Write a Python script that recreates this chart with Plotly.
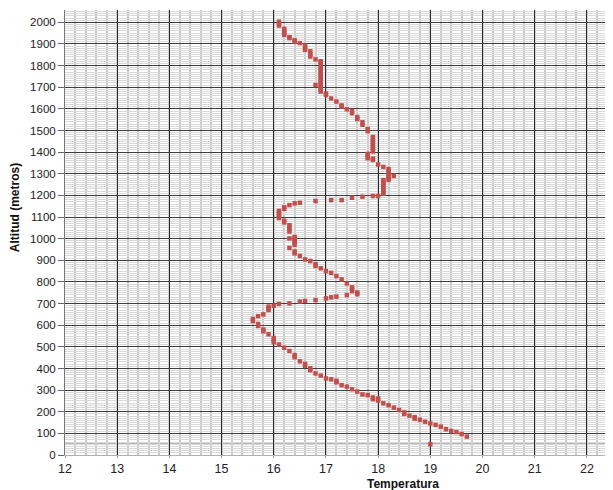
import plotly.graph_objects as go

# Temperature (°C) readings and their altitudes (m)
temperatura = [
    19.0, 19.7, 19.6, 19.5, 19.4, 19.3, 19.2, 19.1, 19.0, 18.9, 18.8, 18.7, 18.7, 18.6, 18.5, 18.5,
    18.4, 18.3, 18.2, 18.1, 18.0, 18.0, 17.9, 17.9, 17.8, 17.7, 17.6, 17.5, 17.4, 17.3, 17.2, 17.2,
    17.1, 17.0, 16.9, 16.8, 16.7, 16.7, 16.6, 16.6, 16.5, 16.4, 16.4, 16.3, 16.2, 16.1, 16.0, 16.0,
    16.0, 15.9, 15.8, 15.8, 15.7, 15.7, 15.6, 15.6, 15.7, 15.8, 15.9, 15.9, 15.9, 16.0, 16.1, 16.3,
    16.5, 16.6, 16.8, 17.0, 17.1, 17.2, 17.4, 17.6, 17.6, 17.5, 17.5, 17.5, 17.4, 17.3, 17.2, 17.1,
    17.0, 16.9, 16.8, 16.8, 16.7, 16.6, 16.5, 16.4, 16.4, 16.3, 16.4, 16.4, 16.4, 16.4, 16.4, 16.3,
    16.3, 16.3, 16.3, 16.3, 16.2, 16.2, 16.1, 16.1, 16.1, 16.1, 16.1, 16.2, 16.2, 16.3, 16.4, 16.5,
    16.8, 17.1, 17.3, 17.5, 17.7, 17.9, 18.0, 18.1, 18.1, 18.1, 18.1, 18.1, 18.1, 18.1, 18.1, 18.2,
    18.2, 18.2, 18.2, 18.2, 18.2, 18.3, 18.1, 18.0, 17.9, 17.9, 17.8, 17.8, 17.8, 17.9, 17.9, 17.9,
    17.9, 17.9, 17.9, 17.9, 17.9, 17.8, 17.8, 17.7, 17.7, 17.6, 17.6, 17.5, 17.5, 17.4, 17.3, 17.3,
    17.2, 17.1, 17.0, 17.0, 16.9, 16.9, 16.9, 16.9, 16.9, 16.9, 16.9, 16.9, 16.9, 16.9, 16.9, 16.9,
    16.9, 16.9, 16.9, 16.9, 16.9, 16.8, 16.8, 16.7, 16.7, 16.7, 16.6, 16.6, 16.6, 16.5, 16.4, 16.4,
    16.3, 16.3, 16.2, 16.2, 16.2, 16.2, 16.1, 16.1, 16.1,
]
altitud = [
    50, 85, 97, 106, 111, 119, 131, 139, 146, 154, 163, 168, 175, 182, 190, 197,
    208, 219, 230, 239, 252, 261, 258, 266, 277, 280, 293, 304, 316, 323, 336, 343,
    350, 354, 367, 377, 392, 401, 412, 421, 433, 452, 462, 481, 496, 511, 521, 531,
    541, 558, 572, 580, 596, 606, 619, 629, 642, 650, 670, 678, 686, 690, 698, 701,
    709, 712, 716, 724, 729, 732, 739, 743, 751, 757, 766, 775, 793, 812, 827, 842,
    850, 863, 874, 882, 896, 904, 920, 932, 941, 957, 972, 981, 990, 1000, 1008, 1001,
    1033, 1043, 1053, 1062, 1075, 1083, 1095, 1104, 1113, 1122, 1128, 1138, 1145, 1155, 1163, 1166,
    1174, 1178, 1178, 1189, 1194, 1197, 1197, 1208, 1217, 1226, 1235, 1244, 1253, 1262, 1271, 1272,
    1281, 1290, 1300, 1310, 1322, 1290, 1332, 1343, 1364, 1370, 1372, 1382, 1392, 1403, 1412, 1421,
    1430, 1440, 1450, 1460, 1470, 1497, 1507, 1526, 1538, 1553, 1562, 1580, 1590, 1598, 1611, 1616,
    1634, 1648, 1664, 1671, 1680, 1689, 1698, 1707, 1716, 1725, 1734, 1743, 1752, 1761, 1770, 1779,
    1788, 1797, 1806, 1815, 1820, 1710, 1829, 1842, 1852, 1866, 1873, 1882, 1893, 1904, 1911, 1917,
    1927, 1932, 1942, 1951, 1960, 1970, 1985, 1994, 2003,
]

x_ticks = [12, 13, 14, 15, 16, 17, 18, 19, 20, 21, 22]
y_ticks = [0, 100, 200, 300, 400, 500, 600, 700, 800, 900, 1000,
           1100, 1200, 1300, 1400, 1500, 1600, 1700, 1800, 1900, 2000]
extra_line_alt = 50

fig = go.Figure()
fig.add_trace(go.Scatter(
    x=temperatura, y=altitud, mode="markers",
    marker=dict(symbol="square", size=4.5, color="#c0504d", line=dict(width=0)),
    showlegend=False, hoverinfo="x+y",
))

font = "Liberation Sans, Arial, sans-serif"

# the page body adds an 8px offset, so the figure is 605x482 drawn from (8, 8)
fig.update_layout(
    width=605, height=482,
    margin=dict(l=57, r=0, t=2, b=35, autoexpand=False),
    paper_bgcolor="white", plot_bgcolor="white",
    font=dict(family=font, color="#222222"),
    xaxis=dict(
        range=[12, 22.5], tickvals=x_ticks, ticktext=[str(v) for v in x_ticks],
        showgrid=True, gridcolor="#2a2a2a", gridwidth=1,
        minor=dict(dtick=0.2, showgrid=True, gridcolor="#c9c9c9", gridwidth=1.5),
        showline=True, linecolor="#b0b0b0", linewidth=1,
        ticks="outside", ticklen=2, tickcolor="#999999",
        tickfont=dict(size=12.5, family=font, color="#222222"),
        zeroline=False, automargin=False,
    ),
    yaxis=dict(
        range=[0, 2057], tickvals=y_ticks, ticktext=[str(v) for v in y_ticks],
        showgrid=True, gridcolor="#3c3c3c", gridwidth=1,
        minor=dict(dtick=10, showgrid=True, gridcolor="#d9d9d9", gridwidth=1),
        showline=True, linecolor="#777777", linewidth=1,
        ticks="outside", ticklen=6, tickcolor="#666666",
        tickfont=dict(size=11.5, family=font, color="#222222"),
        zeroline=False, automargin=False,
    ),
    shapes=[dict(type="line", xref="paper", x0=0, x1=1, yref="y",
                 y0=extra_line_alt, y1=extra_line_alt,
                 line=dict(color="#222222", width=1), layer="below")],
    annotations=[
        dict(text="<b>Temperatura</b>", xref="paper", yref="paper",
             x=0.617, y=-0.065, xanchor="center", yanchor="middle",
             showarrow=False, font=dict(size=12, family=font, color="#111111")),
        dict(text="<b>Altitud (metros)</b>", xref="paper", yref="paper",
             x=-0.091, y=0.555, xanchor="center", yanchor="middle", textangle=-90,
             showarrow=False, font=dict(size=12, family=font, color="#111111")),
    ],
)

fig.write_html("out.html")
